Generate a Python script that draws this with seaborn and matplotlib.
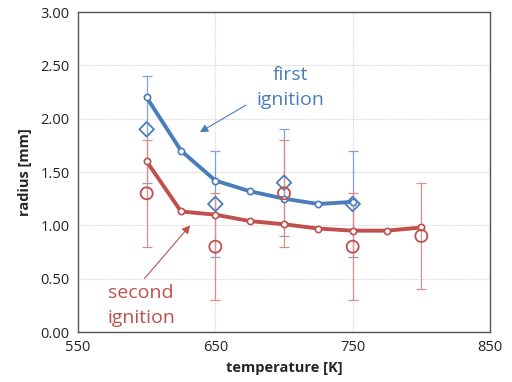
import matplotlib
matplotlib.use("Agg")
import matplotlib.pyplot as plt
import seaborn as sns
import pandas as pd

# Fitted curves
temp_line = [600, 625, 650, 675, 700, 725, 750, 775, 800]
first_line = [2.20, 1.70, 1.42, 1.32, 1.25, 1.20, 1.22, None, None]
second_line = [1.60, 1.13, 1.10, 1.04, 1.01, 0.97, 0.95, 0.95, 0.98]

# Measurements with error bars
first_temp = [600, 650, 700, 750]
first_meas = [1.90, 1.20, 1.40, 1.20]
first_err = [0.50, 0.50, 0.50, 0.50]
second_temp = [600, 650, 700, 750, 800]
second_meas = [1.30, 0.80, 1.30, 0.80, 0.90]
second_err = [0.50, 0.50, 0.50, 0.50, 0.50]

xticks = [550, 650, 750, 850]
yticks = [0.0, 0.5, 1.0, 1.5, 2.0, 2.5, 3.0]

BLUE = "#4a7ebb"
RED = "#c0504d"

sns.set_theme(style="white")
plt.rcParams['font.family'] = ['Open Sans', 'DejaVu Sans']

fig = plt.figure(figsize=(5.12, 3.82), dpi=100)
ax = fig.add_axes([78/512, 1-332/382, (490-78)/512, (332-12)/382])

df1 = pd.DataFrame({"T": temp_line, "r": first_line}).dropna()
df2 = pd.DataFrame({"T": temp_line, "r": second_line})

# error bars
ax.errorbar(first_temp, first_meas, yerr=first_err, fmt='none', ecolor="#7fa3d6",
            elinewidth=0.9, capsize=3.5, capthick=0.9, zorder=2)
ax.errorbar(second_temp, second_meas, yerr=second_err, fmt='none', ecolor="#e08c8a",
            elinewidth=0.9, capsize=3.5, capthick=0.9, zorder=2)

sns.lineplot(data=df1, x="T", y="r", ax=ax, color=BLUE, linewidth=2.8,
             marker='o', markersize=4.5, markerfacecolor='white',
             markeredgecolor=BLUE, markeredgewidth=1.2, zorder=3)
sns.lineplot(data=df2, x="T", y="r", ax=ax, color=RED, linewidth=2.8,
             marker='o', markersize=4.5, markerfacecolor='white',
             markeredgecolor=RED, markeredgewidth=1.2, zorder=3)

sns.scatterplot(x=first_temp, y=first_meas, ax=ax, marker='D', s=55,
                facecolor='none', edgecolor=BLUE, linewidth=1.3, zorder=4)
sns.scatterplot(x=second_temp, y=second_meas, ax=ax, marker='o', s=75,
                facecolor='none', edgecolor=RED, linewidth=1.3, zorder=4)

ax.set_xlim(550, 850)
ax.set_ylim(0, 3)
ax.set_xticks(xticks)
ax.set_yticks(yticks)
ax.set_yticklabels([f"{v:.2f}" for v in yticks])
ax.grid(True, color='#d4d4d4', linestyle=(0, (1, 1)), linewidth=0.8)
ax.set_axisbelow(True)
for s in ax.spines.values():
    s.set_color('#555555')
    s.set_linewidth(1.0)
ax.tick_params(axis='both', labelsize=10.5, length=0, pad=6, colors='#222222')
ax.set_xlabel("temperature [K]", fontsize=10.5, fontweight='bold', labelpad=4)
ax.set_ylabel("radius [mm]", fontsize=10.5, fontweight='bold', labelpad=6)

ax.text(705, 2.29, "first\nignition", color=BLUE, fontsize=14, ha='center',
        va='center', linespacing=1.5)
ax.annotate("", xy=(637, 1.86), xytext=(674, 2.14),
            arrowprops=dict(arrowstyle='-|>', color=BLUE, lw=0.8,
                            mutation_scale=12))
ax.text(596, 0.245, "second\nignition", color=RED, fontsize=14, ha='center',
        va='center', linespacing=1.5)
ax.annotate("", xy=(633, 1.02), xytext=(597, 0.48),
            arrowprops=dict(arrowstyle='-|>', color=RED, lw=0.8,
                            mutation_scale=12))

fig.savefig("out.png", dpi=100)
